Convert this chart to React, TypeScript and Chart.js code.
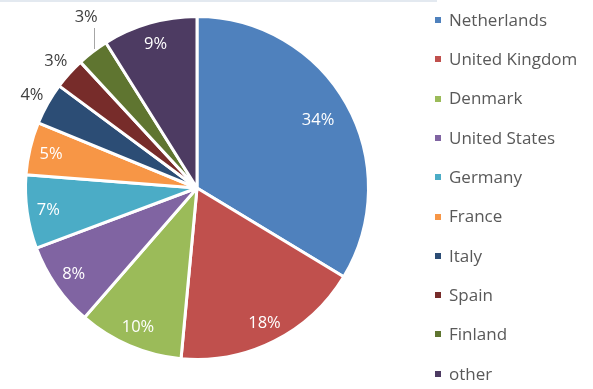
import React, { useEffect, useRef } from "react";
import { Chart, registerables } from "chart.js";

Chart.register(...registerables);

const categories = [
  "Netherlands",
  "United Kingdom",
  "Denmark",
  "United States",
  "Germany",
  "France",
  "Italy",
  "Spain",
  "Finland",
  "other",
];
const shares = [34, 18, 10, 8, 7, 5, 4, 3, 3, 9];
const shareLabels = shares.map((v) => v + "%");
const colors = [
  "#4F81BD",
  "#C0504D",
  "#9BBB59",
  "#8064A2",
  "#4BACC6",
  "#F79646",
  "#2C4D75",
  "#772C2A",
  "#5F7530",
  "#4D3B62",
];

const FONT = "'Open Sans', 'DejaVu Sans', sans-serif";

const labelPlugin = {
  id: "sliceLabels",
  afterDatasetsDraw(chart: any) {
    const ctx = chart.ctx as CanvasRenderingContext2D;
    const meta = chart.getDatasetMeta(0);
    const total = shares.reduce((a, b) => a + b, 0);
    ctx.save();
    ctx.textAlign = "center";
    ctx.textBaseline = "middle";
    let prevOut: { x: number; y: number } | null = null;
    meta.data.forEach((arc: any, i: number) => {
      const { x, y, startAngle, endAngle, outerRadius } = arc.getProps(
        ["x", "y", "startAngle", "endAngle", "outerRadius"],
        true
      );
      const mid = (startAngle + endAngle) / 2;
      const frac = shares[i] / total;
      const cos = Math.cos(mid);
      const sin = Math.sin(mid);
      ctx.font = `16.5px ${FONT}`;
      if (shares[i] >= 5) {
        const rr = outerRadius * (frac > 0.25 ? 0.81 : 0.875);
        ctx.fillStyle = "#ffffff";
        ctx.fillText(shareLabels[i], x + cos * rr, y + sin * rr + 1);
      } else {
        ctx.fillStyle = "#404040";
        const rr = outerRadius + 18;
        let lx = x + cos * rr;
        let ly = y + sin * rr;
        if (prevOut && Math.abs(prevOut.y - ly) < 28 && Math.abs(prevOut.x - lx) < 32) {
          // crowded: lift label and draw a leader line
          const ex = x + cos * (outerRadius + 1) + 2;
          const ey = y + sin * (outerRadius + 1) - 2;
          ctx.strokeStyle = "#a6a6a6";
          ctx.lineWidth = 1;
          ctx.beginPath();
          ctx.moveTo(Math.round(ex) + 0.5, ey);
          ctx.lineTo(Math.round(ex) + 0.5, ey - 21);
          ctx.stroke();
          lx = ex - 8;
          ly = ey - 32;
        }
        ctx.fillText(shareLabels[i], lx, ly);
        prevOut = { x: lx, y: ly };
      }
    });
    ctx.restore();
  },
};

const legendPlugin = {
  id: "sideLegend",
  afterDraw(chart: any) {
    const ctx = chart.ctx as CanvasRenderingContext2D;
    ctx.save();
    ctx.textAlign = "left";
    ctx.textBaseline = "middle";
    ctx.font = `17px ${FONT}`;
    const top = 20;
    const step = 39.3;
    categories.forEach((name, i) => {
      const cy = top + i * step;
      ctx.fillStyle = colors[i];
      ctx.fillRect(435, Math.round(cy) - 3, 6, 6);
      ctx.fillStyle = "#595959";
      ctx.fillText(name, 449, cy + 1);
    });
    // faint frame line at top
    ctx.fillStyle = "#e3e9f0";
    ctx.fillRect(0, 0, 437, 2);
    ctx.restore();
  },
};

export default function App() {
  const ref = useRef<HTMLCanvasElement | null>(null);
  useEffect(() => {
    if (!ref.current) return;
    const chart = new Chart(ref.current, {
      type: "pie",
      data: {
        labels: categories,
        datasets: [
          {
            data: shares,
            backgroundColor: colors,
            borderColor: "#ffffff",
            borderWidth: 3,
          },
        ],
      },
      options: {
        animation: false,
        responsive: false,
        maintainAspectRatio: false,
        layout: { padding: { left: 24, right: 223, top: 15, bottom: 28 } },
        plugins: {
          legend: { display: false },
          tooltip: { enabled: false },
          title: { display: false },
        },
      },
      plugins: [labelPlugin, legendPlugin],
    });
    return () => chart.destroy();
  }, []);
  return (
    <div style={{ position: "absolute", left: 0, top: 0, width: 593, height: 389, background: "#fff" }}>
      <canvas ref={ref} width={593} height={389} style={{ width: 593, height: 389, display: "block" }} />
    </div>
  );
}
